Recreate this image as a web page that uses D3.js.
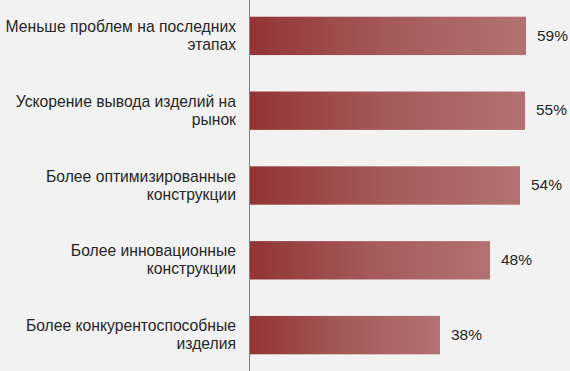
<!DOCTYPE html>
<html>
<head>
<meta charset="UTF-8">
<title>Bar chart</title>
<script src="https://d3js.org/d3.v7.min.js"></script>
<style>
  body { margin: 0; background: #f2f2f2; }
  svg { display: block; background: #f2f2f2; }
  text { font-family: "Liberation Sans", Arial, sans-serif; fill: #262626; }
</style>
</head>
<body>
<svg></svg>
<script>
// data
const labels = [
  ["Меньше проблем на последних", "этапах"],
  ["Ускорение вывода изделий на", "рынок"],
  ["Более оптимизированные", "конструкции"],
  ["Более инновационные", "конструкции"],
  ["Более конкурентоспособные", "изделия"]
];
const values = [59, 55, 54, 48, 38];
const valueLabels = ["59%", "55%", "54%", "48%", "38%"];

const W = 570, H = 371;
const axisX = 249;

const svg = d3.select("svg").attr("width", W).attr("height", H);

// plot area ends where the original axis maximum clipped the longest bar
const x = d3.scaleLinear().domain([0, 55.2]).range([axisX + 1, 526]).clamp(true);
const y = d3.scaleBand().domain(d3.range(values.length)).range([-2, 373]).paddingInner(0.487).paddingOuter(0.25);

const grad = svg.append("defs").append("linearGradient")
  .attr("id", "barGrad").attr("x1", 0).attr("x2", 1).attr("y1", 0).attr("y2", 0);
grad.append("stop").attr("offset", "0%").attr("stop-color", "#923535");
grad.append("stop").attr("offset", "50%").attr("stop-color", "#a65a5a");
grad.append("stop").attr("offset", "100%").attr("stop-color", "#b37171");

svg.selectAll("rect.bar")
  .data(values)
  .enter()
  .append("rect")
  .attr("class", "bar")
  .attr("x", x(0))
  .attr("y", (d, i) => y(i))
  .attr("width", d => x(d) - x(0))
  .attr("height", y.bandwidth())
  .attr("fill", "url(#barGrad)");

svg.selectAll("text.val")
  .data(values)
  .enter()
  .append("text")
  .attr("class", "val")
  .attr("x", d => x(d) + 11)
  .attr("y", (d, i) => y(i) + y.bandwidth() / 2)
  .attr("dy", "0.3em")
  .style("font-size", "15.5px")
  .text((d, i) => valueLabels[i]);

const lab = svg.selectAll("text.cat")
  .data(labels)
  .enter()
  .append("text")
  .attr("class", "cat")
  .attr("text-anchor", "end")
  .attr("x", axisX - 13)
  .attr("y", (d, i) => y(i) + y.bandwidth() / 2)
  .style("font-size", "15.7px");

lab.selectAll("tspan")
  .data(d => d)
  .enter()
  .append("tspan")
  .attr("x", axisX - 13)
  .attr("dy", (d, j) => j === 0 ? "-0.25em" : "1.15em")
  .text(d => d);

svg.append("line")
  .attr("x1", axisX + 0.5).attr("x2", axisX + 0.5)
  .attr("y1", 0).attr("y2", H)
  .attr("stroke", "#808080").attr("stroke-width", 1);
</script>
</body>
</html>
